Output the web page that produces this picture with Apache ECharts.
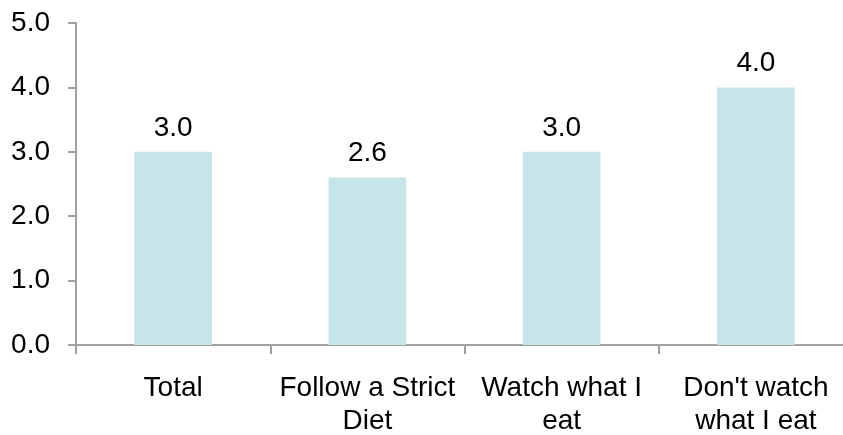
<!DOCTYPE html>
<html>
<head>
<meta charset="utf-8">
<script src="https://cdn.jsdelivr.net/npm/echarts@6/dist/echarts.min.js"></script>
<style>
  html, body { margin: 0; padding: 0; background: #ffffff; }
  #chart { width: 843px; height: 435px; }
</style>
</head>
<body>
<div id="chart"></div>
<script>
// Survey groups shown along the bottom axis
const categories = ['Total', 'Follow a Strict\nDiet', 'Watch what I\neat', "Don't watch\nwhat I eat"];
// Average score per group
const values = [3.0, 2.6, 3.0, 4.0];
// Value axis range
const yMin = 0;
const yMax = 5;
const yStep = 1;

const axisGray = '#a0a0a0';
const fontFamily = '"Liberation Sans", Arial, Helvetica, sans-serif';
const fontSize = 28;

const chart = echarts.init(document.getElementById('chart'), null, { renderer: 'canvas' });

chart.setOption({
  animation: false,
  backgroundColor: '#ffffff',
  // plot area runs a little past the right edge of the canvas
  grid: {
    left: 76, width: 777, top: 23, height: 322,
    containLabel: false,
    outerBoundsMode: 'none'
  },
  xAxis: {
    type: 'category',
    data: categories,
    axisLine: { show: true, lineStyle: { color: axisGray, width: 2 } },
    axisTick: { show: true, alignWithLabel: false, length: 9, lineStyle: { color: axisGray, width: 2 } },
    axisLabel: {
      color: '#000000',
      fontFamily: fontFamily,
      fontSize: fontSize,
      lineHeight: 33,
      margin: 27,
      interval: 0
    },
    splitLine: { show: false }
  },
  yAxis: {
    type: 'value',
    min: yMin,
    max: yMax,
    interval: yStep,
    axisLine: { show: true, lineStyle: { color: axisGray, width: 2 } },
    axisTick: { show: true, length: 8, lineStyle: { color: axisGray, width: 2 } },
    axisLabel: {
      color: '#000000',
      fontFamily: fontFamily,
      fontSize: fontSize,
      margin: 26,
      formatter: v => v.toFixed(1)
    },
    splitLine: { show: false }
  },
  series: [{
    type: 'bar',
    data: values,
    barWidth: '40%',
    itemStyle: { color: '#c5e5e8' },
    label: {
      show: true,
      position: 'top',
      distance: 10,
      color: '#000000',
      fontFamily: fontFamily,
      fontSize: fontSize,
      formatter: p => p.value.toFixed(1)
    }
  }]
});
</script>
</body>
</html>
